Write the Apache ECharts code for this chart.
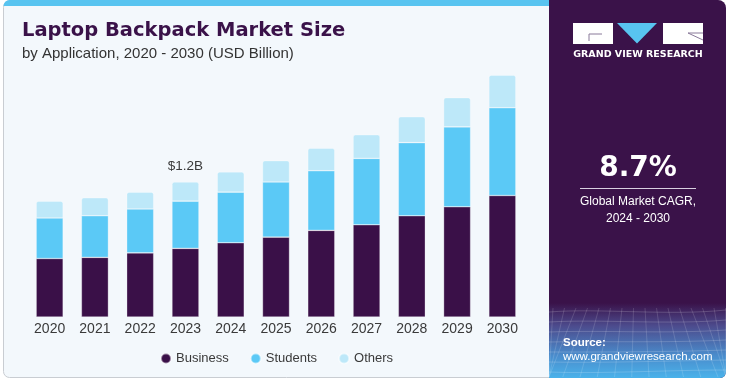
<!DOCTYPE html>
<html>
<head>
<meta charset="utf-8">
<script src="https://cdn.jsdelivr.net/npm/echarts@6/dist/echarts.min.js"></script>
<style>
html,body{margin:0;padding:0;background:#ffffff;}
#chart{width:730px;height:384px;}
</style>
</head>
<body>
<div id="chart"></div>
<script>
// Data (USD Billion)
var years = ['2020','2021','2022','2023','2024','2025','2026','2027','2028','2029','2030'];
var business = [0.52,0.53,0.57,0.61,0.66,0.71,0.77,0.82,0.90,0.98,1.08];
var students = [0.36,0.37,0.39,0.42,0.45,0.49,0.53,0.59,0.65,0.71,0.78];
var others   = [0.15,0.16,0.15,0.17,0.18,0.19,0.20,0.21,0.23,0.26,0.29];
var seriesNames = ['Business','Students','Others'];
var calloutIndex = 3;
var calloutText = '$1.2B';

var FONT = '"Liberation Sans", Arial, sans-serif';
var FONTB = '"DejaVu Sans", "Liberation Sans", Arial, sans-serif';
var TXT = '#3a3a3a';

var chart = echarts.init(document.getElementById('chart'), null, {renderer:'canvas'});

var othersData = others.map(function(v,i){
  if(i===calloutIndex){
    return {value:v,label:{show:true,position:'top',distance:9,formatter:calloutText,color:TXT,fontSize:13.5,fontFamily:FONT}};
  }
  return v;
});

// decorative grid lines for the bottom-right band
var deco = [];
var bx0=549, bx1=726, by0=306, by1=377;
for(var k=0;k<7;k++){
  var y = by0 + 6 + k*10;
  deco.push({type:'bezierCurve',shape:{x1:bx0,y1:y,cpx1:600,cpy1:y-4+k,cpx2:670,cpy2:y+4-k,x2:bx1,y2:y-2},
    style:{stroke:'rgba(255,255,255,0.22)',lineWidth:0.8,fill:null},z:3});
}
for(var j=0;j<16;j++){
  var x = bx0 + 4 + j*11.5;
  var xb = bx0 + (x-bx0-88)*1.5 + 88;
  deco.push({type:'line',shape:{x1:x,y1:by0+2,x2:Math.max(bx0,Math.min(bx1,xb)),y2:by1},
    style:{stroke:'rgba(255,255,255,0.18)',lineWidth:0.8},z:3});
}

var option = {
  backgroundColor:'#ffffff',
  animation:false,
  textStyle:{fontFamily:FONT},
  graphic:[
    // left card
    {type:'rect',shape:{x:3.5,y:0.5,width:560,height:377,r:[7,0,0,6]},style:{fill:'#f3f8fc',stroke:'#c9cdd2',lineWidth:1},z:0},
    {type:'rect',shape:{x:3.5,y:0,width:550,height:6,r:[6,0,0,0]},style:{fill:'#58c4f0'},z:1},
    // right panel
    {type:'rect',shape:{x:549,y:0,width:177,height:378,r:[0,8,6,0]},style:{fill:'#3a1249'},z:2},
    {type:'rect',shape:{x:549,y:303,width:177,height:75,r:[0,0,6,0]},
      style:{fill:new echarts.graphic.LinearGradient(0,0,0,1,[
        {offset:0,color:'#3a1249'},{offset:0.3,color:'#4c4a8c'},{offset:0.7,color:'#4a8ccc'},{offset:1,color:'#4ab2ea'}])},z:2}
  ].concat(deco).concat([
    // logo
    {type:'rect',shape:{x:573,y:23,width:40,height:21},style:{fill:'#ffffff'},z:4},
    {type:'polyline',shape:{points:[[602,34],[589,34],[589,41]]},style:{stroke:'#8a7a9a',lineWidth:1,fill:null},z:5},
    {type:'polygon',shape:{points:[[617,23],[657,23],[637,43.5]]},style:{fill:'#58c4f0'},z:4},
    {type:'rect',shape:{x:663,y:23,width:40,height:21},style:{fill:'#ffffff'},z:4},
    {type:'polyline',shape:{points:[[703,33],[688,33],[703,40]]},style:{stroke:'#8a7a9a',lineWidth:1,fill:null},z:5},
    {type:'text',style:{x:638,y:54.5,text:'GRAND VIEW RESEARCH',fill:'#ffffff',font:'bold 9.5px '+FONTB,textAlign:'center',textVerticalAlign:'middle'},z:5},
    // CAGR
    {type:'text',style:{x:638,y:169,text:'8.7%',fill:'#ffffff',font:'bold 28px '+FONTB,textAlign:'center',textVerticalAlign:'middle'},z:5},
    {type:'line',shape:{x1:580,y1:188.5,x2:696,y2:188.5},style:{stroke:'#d8d0e0',lineWidth:1},z:5},
    {type:'text',style:{x:638,y:202,text:'Global Market CAGR,',fill:'#ffffff',font:'12px '+FONT,textAlign:'center',textVerticalAlign:'middle'},z:5},
    {type:'text',style:{x:638,y:218.5,text:'2024 - 2030',fill:'#ffffff',font:'12px '+FONT,textAlign:'center',textVerticalAlign:'middle'},z:5},
    // source
    {type:'text',style:{x:563,y:342.5,text:'Source:',fill:'#ffffff',font:'bold 11.5px '+FONT,textAlign:'left',textVerticalAlign:'middle'},z:5},
    {type:'text',style:{x:563,y:356.5,text:'www.grandviewresearch.com',fill:'#ffffff',font:'11.5px '+FONT,textAlign:'left',textVerticalAlign:'middle'},z:5},
    // titles
    {type:'text',style:{x:22,y:30.5,text:'Laptop Backpack Market Size',fill:'#3a1249',font:'bold 19.5px '+FONTB,textAlign:'left',textVerticalAlign:'middle'},z:5},
    {type:'text',style:{x:22,y:53.5,text:'by Application, 2020 - 2030 (USD Billion)',fill:'#333333',font:'15px '+FONT,textAlign:'left',textVerticalAlign:'middle'},z:5}
  ]),
  legend:{
    data:seriesNames,
    left:155, top:347,
    icon:'circle', itemWidth:10, itemHeight:10, itemGap:21,
    textStyle:{color:TXT,fontSize:13,fontFamily:FONT}
  },
  grid:{left:27,top:69.5,width:498,height:247.5,containLabel:false},
  xAxis:{
    type:'category', data:years,
    axisLine:{show:false}, axisTick:{show:false},
    axisLabel:{color:TXT,fontSize:14,fontFamily:FONT,margin:5}
  },
  yAxis:{type:'value',min:0,max:2.2,show:false,splitLine:{show:false}},
  series:[
    {name:seriesNames[0],type:'bar',stack:'t',barWidth:27,data:business,
     itemStyle:{color:'#3a1048',borderColor:'rgba(255,255,255,0.5)',borderWidth:0.6}},
    {name:seriesNames[1],type:'bar',stack:'t',barWidth:27,data:students,
     itemStyle:{color:'#5bc9f6',borderColor:'rgba(255,255,255,0.5)',borderWidth:0.6}},
    {name:seriesNames[2],type:'bar',stack:'t',barWidth:27,data:othersData,
     itemStyle:{color:'#bde8f9',borderColor:'rgba(255,255,255,0.5)',borderWidth:0.6,borderRadius:[2,2,0,0]}}
  ]
};
chart.setOption(option);
</script>
</body>
</html>
